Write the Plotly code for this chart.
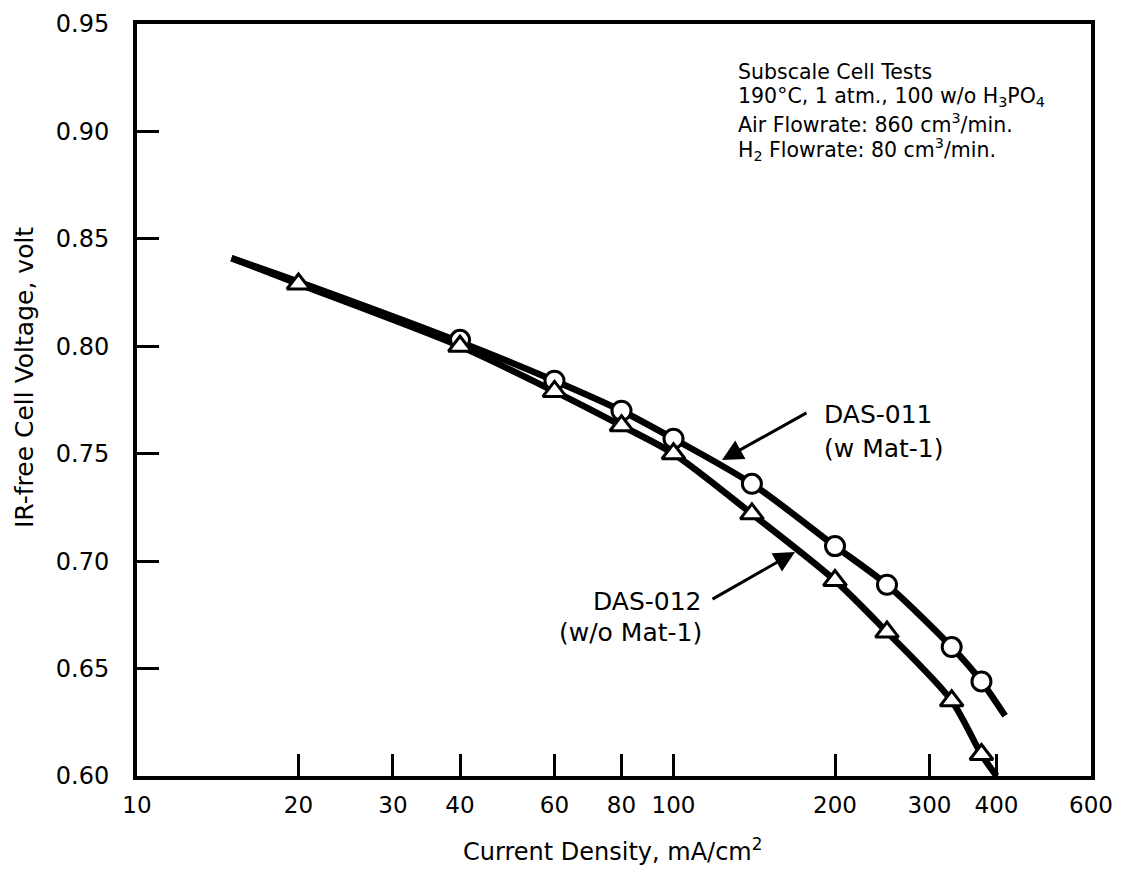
import plotly.graph_objects as go

# ---------------- data ----------------
# DAS-011 (w Mat-1) : open circles
das011_x = [40, 60, 80, 100, 140, 200, 250, 330, 375]
das011_y = [0.803, 0.784, 0.770, 0.757, 0.736, 0.707, 0.689, 0.660, 0.644]
# DAS-012 (w/o Mat-1) : open triangles
das012_x = [20, 40, 60, 80, 100, 140, 200, 250, 330, 375]
das012_y = [0.829, 0.800, 0.779, 0.763, 0.750, 0.722, 0.691, 0.667, 0.635, 0.610]
# smooth fitted curves drawn through the data
curve011_x = [15, 20, 40, 60, 80, 100, 140, 200, 250, 330, 375, 415]
curve011_y = [0.841, 0.830, 0.802, 0.784, 0.770, 0.757, 0.736, 0.707, 0.689, 0.660, 0.644, 0.628]
curve012_x = [15, 20, 40, 60, 80, 100, 140, 200, 250, 330, 375, 400]
curve012_y = [0.841, 0.829, 0.800, 0.779, 0.763, 0.750, 0.722, 0.691, 0.667, 0.635, 0.610, 0.600]

x_tickvals = [10, 20, 30, 40, 60, 80, 100, 200, 300, 400, 600]
x_ticktext = ["10", "20", "30", "40", "60", "80", "100", "200", "300", "400", "600"]
y_tickvals = [0.60, 0.65, 0.70, 0.75, 0.80, 0.85, 0.90, 0.95]
y_ticktext = ["0.60", "0.65", "0.70", "0.75", "0.80", "0.85", "0.90", "0.95"]

# ---------------- layout geometry ----------------
W, H = 1127, 871
L, R, T, B = 137, 1091, 24, 776
PW, PH = R - L, B - T
FONT = "DejaVu Sans, Liberation Sans, sans-serif"


def px(x):
    return (x - L) / PW


def py(y):
    return (B - y) / PH


fig = go.Figure()
fig.add_trace(go.Scatter(x=curve011_x, y=curve011_y, mode="lines",
                         line=dict(color="black", width=6.5, shape="spline", smoothing=0.8),
                         hoverinfo="skip", showlegend=False))
fig.add_trace(go.Scatter(x=curve012_x, y=curve012_y, mode="lines",
                         line=dict(color="black", width=6.5, shape="spline", smoothing=0.8),
                         hoverinfo="skip", showlegend=False))
fig.add_trace(go.Scatter(x=das011_x, y=das011_y, mode="markers", name="DAS-011",
                         marker=dict(symbol="circle", size=19, color="white",
                                     line=dict(color="black", width=3)),
                         showlegend=False))
fig.add_trace(go.Scatter(x=das012_x, y=das012_y, mode="markers", name="DAS-012",
                         marker=dict(symbol="triangle-up", size=20, color="white",
                                     line=dict(color="black", width=3)),
                         showlegend=False))

annotations = []
info_lines = [
    ("Subscale Cell Tests", 72),
    ("190°C, 1 atm., 100 w/o H<sub>3</sub>PO<sub>4</sub>", 97),
    ("Air Flowrate: 860 cm<sup>3</sup>/min.", 123),
    ("H<sub>2</sub> Flowrate: 80 cm<sup>3</sup>/min.", 150),
]
for txt, yy in info_lines:
    annotations.append(dict(text=txt, xref="paper", yref="paper", x=px(736), y=py(yy),
                            xanchor="left", yanchor="middle", showarrow=False,
                            font=dict(family=FONT, size=20.5, color="black")))

annotations += [
    dict(text="DAS-011", xref="paper", yref="paper", x=px(822), y=py(415),
         xanchor="left", yanchor="middle", showarrow=False,
         font=dict(family=FONT, size=25, color="black")),
    dict(text="(w Mat-1)", xref="paper", yref="paper", x=px(822), y=py(448),
         xanchor="left", yanchor="middle", showarrow=False,
         font=dict(family=FONT, size=25, color="black")),
    dict(text="DAS-012", xref="paper", yref="paper", x=px(704), y=py(601),
         xanchor="right", yanchor="middle", showarrow=False,
         font=dict(family=FONT, size=25, color="black")),
    dict(text="(w/o Mat-1)", xref="paper", yref="paper", x=px(704), y=py(632),
         xanchor="right", yanchor="middle", showarrow=False,
         font=dict(family=FONT, size=25, color="black")),
    # arrows
    dict(text="", xref="paper", yref="paper", x=px(722), y=py(460),
         ax=86, ay=-48, showarrow=True, arrowhead=2, arrowsize=1.4,
         arrowwidth=3, arrowcolor="black", standoff=0),
    dict(text="", xref="paper", yref="paper", x=px(795), y=py(552),
         ax=-84, ay=48, showarrow=True, arrowhead=2, arrowsize=1.4,
         arrowwidth=3, arrowcolor="black", standoff=0),
    # axis titles
    dict(text="Current Density, mA/cm<sup>2</sup>", xref="paper", yref="paper",
         x=px(612), y=py(850), xanchor="center", yanchor="middle", showarrow=False,
         font=dict(family=FONT, size=24, color="black")),
    dict(text="IR-free Cell Voltage, volt", xref="paper", yref="paper",
         x=px(24), y=py(378), xanchor="center", yanchor="middle", showarrow=False,
         textangle=-90, font=dict(family=FONT, size=25, color="black")),
]

fig.update_layout(
    width=W, height=H,
    margin=dict(l=L, r=W - R, t=T, b=H - B, pad=0),
    paper_bgcolor="white", plot_bgcolor="white",
    annotations=annotations,
    xaxis=dict(type="log", range=[1.0, 2.7782], tickvals=x_tickvals, ticktext=x_ticktext,
               ticks="inside", ticklen=22, tickwidth=3, tickcolor="black",
               showline=True, linewidth=4, linecolor="black", mirror=True,
               showgrid=False, zeroline=False, automargin=False,
               ticklabelstandoff=5,
               tickfont=dict(family=FONT, size=23, color="black")),
    yaxis=dict(range=[0.60, 0.95], tickvals=y_tickvals, ticktext=y_ticktext,
               ticks="inside", ticklen=22, tickwidth=3, tickcolor="black",
               showline=True, linewidth=4, linecolor="black", mirror=True,
               showgrid=False, zeroline=False, automargin=False,
               ticklabelstandoff=19,
               tickfont=dict(family=FONT, size=24, color="black")),
)

fig.write_html("out.html")
